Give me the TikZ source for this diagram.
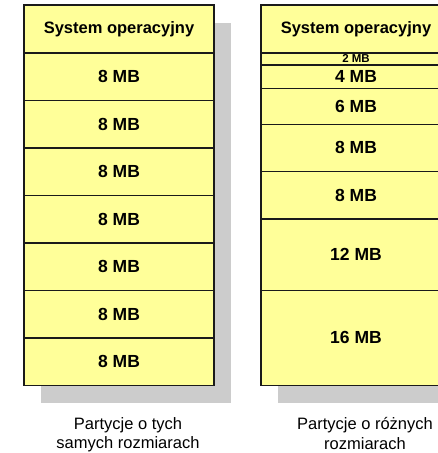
\documentclass[tikz,border=0pt]{standalone}
\usepackage{fontspec}
\setmainfont{Liberation Sans}
\usepackage{tikz}
\usetikzlibrary{positioning,backgrounds}
\definecolor{partfill}{HTML}{FFFF99}
\definecolor{partline}{HTML}{1A1A1A}
\definecolor{cien}{HTML}{CCCCCC}
\tikzset{
  part/.style = {rectangle, draw=partline, fill=partfill, line width=1.4pt,
    minimum width=190pt, inner sep=0pt, outer sep=0pt,
    font=\fontsize{17.5}{18}\selectfont\bfseries},
  part_os/.style = {part, minimum height=48pt,
    font=\fontsize{16.5}{18}\selectfont\bfseries},% system operacyjny
  part_mb/.style = {part, minimum height=#1*5.935pt},% partycja o rozmiarze #1 MB
  opis/.style = {align=center, anchor=north, font=\fontsize{16.5}{19.5}\selectfont}
}

\begin{document}
\begin{tikzpicture}[x=1pt,y=-1pt]
  \clip (0,0) rectangle (438,453);
  % partycje o tych samych rozmiarach
  \node [part_os, anchor=north west] (L0) at (24,5) {System operacyjny};
  \foreach \i [remember=\i as \last (initially 0)] in {1,...,7}
    \node [part_mb=8, below=0pt of L\last] (L\i) {8 MB};
  % partycje o roznych rozmiarach
  \node [part_os, anchor=north west] (R0) at (261,5) {System operacyjny};
  \node [part_mb=2, font=\fontsize{11.5}{11.5}\selectfont\bfseries,
    below=0pt of R0] (R1) {2 MB};
  \foreach \mb [count=\i from 2, remember=\i as \last (initially 1)] in {4,6,8,8,12,16}
    \node [part_mb=\mb, below=0pt of R\last] (R\i) {\mb{} MB};
  % cienie
  \begin{scope}[on background layer]
    \fill [cien] ([shift={(17,18)}]L0.north west) rectangle ([shift={(17,18)}]L7.south east);
    \fill [cien] ([shift={(17,18)}]R0.north west) rectangle ([shift={(17,18)}]R7.south east);
  \end{scope}
  \node [opis] (opisL) at (128,414) {Partycje o tych\\samych rozmiarach};
  \node [opis] (opisR) at (365,414) {Partycje o różnych\\rozmiarach};
\end{tikzpicture}
\end{document}
